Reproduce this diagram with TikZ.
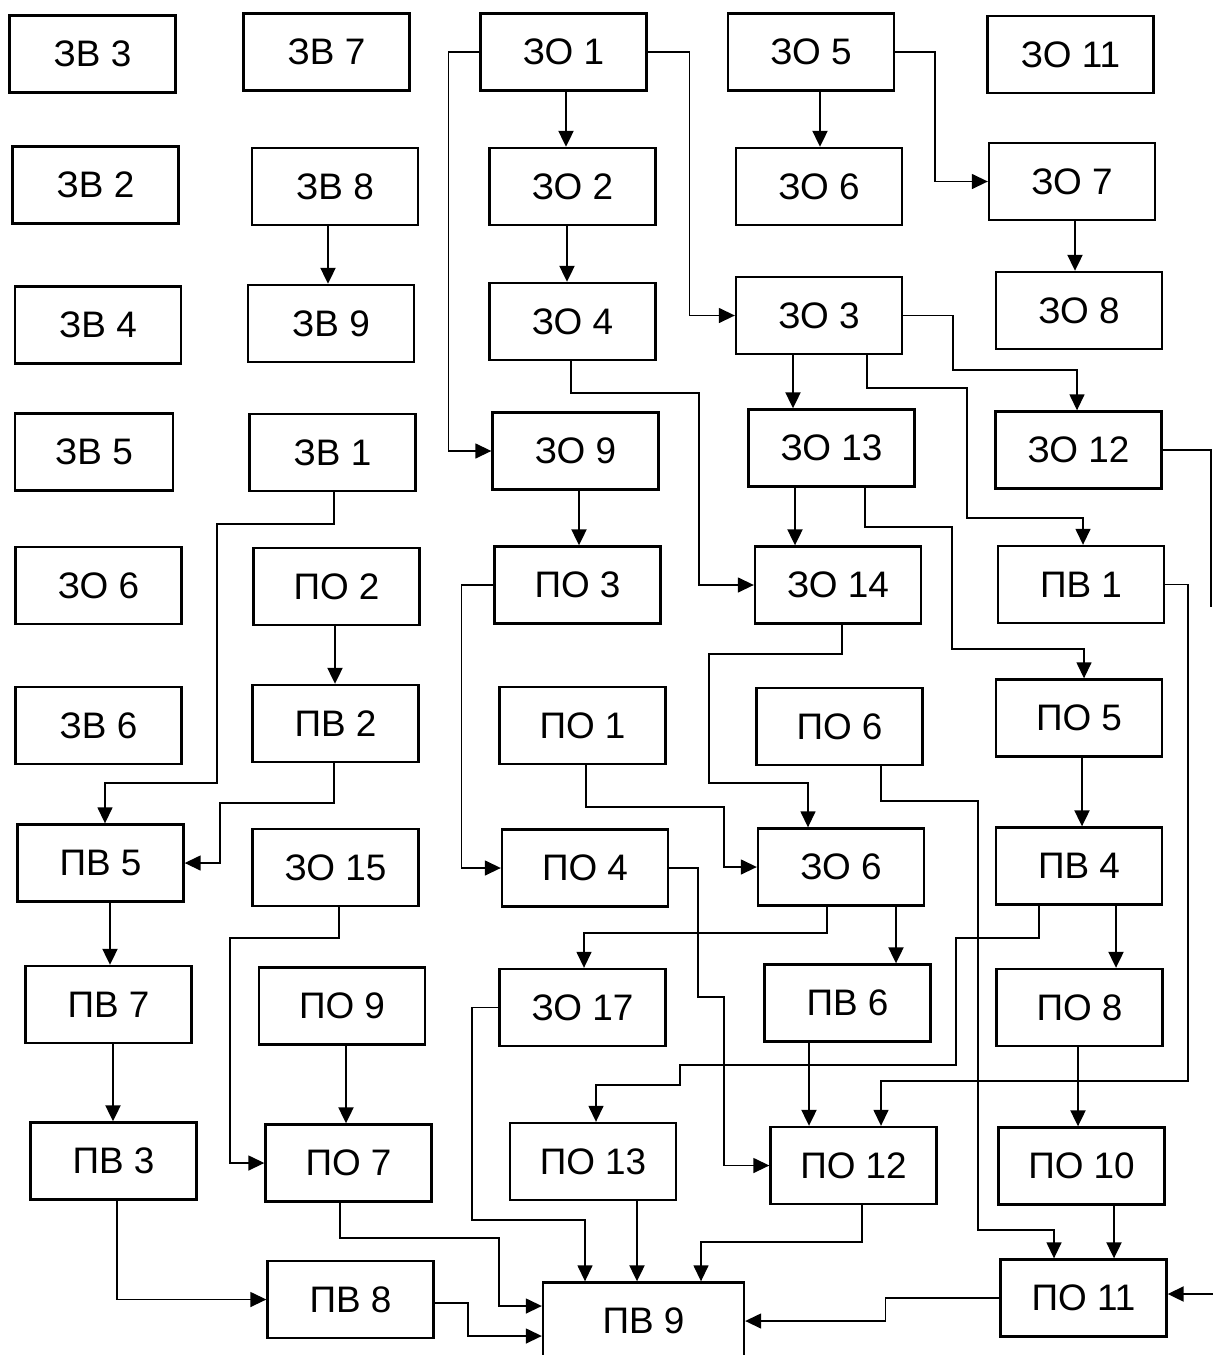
\documentclass[tikz,border=0pt]{standalone}
\usepackage{fontspec}
\setmainfont{Liberation Sans}
\usepackage{tikz}
\usetikzlibrary{arrows.meta}

\tikzset{
  blok/.style={draw, line width=1.35pt, minimum width=3.32cm, minimum height=1.54cm,
    inner sep=0pt, font=\fontsize{21}{25}\selectfont},
  strel/.style={line width=1.15pt, -{Triangle[length=0.32cm,width=0.3cm]}},
  lin/.style={line width=0.8pt},
  lstrel/.style={lin, -{Triangle[length=0.32cm,width=0.3cm]}}
}

\begin{document}
\begin{tikzpicture}[x=0.02cm, y=-0.02cm]
  \useasboundingbox (0,0) rectangle (1213,1355);
  \clip (0,0) rectangle (1213,1355);
  % blocks
  \foreach \n/\x/\y/\t in {zv3/92.5/54/ЗВ 3, zv7/326.5/52/ЗВ 7, zv2/95.5/185/ЗВ 2,
      zv8/335/186.5/ЗВ 8, zv4/98/325/ЗВ 4, zv9/331/323.5/ЗВ 9, zv1/332.5/452.5/ЗВ 1,
      zoa/98.5/585.5/ЗО 6, po2/336.5/586.5/ПО 2, zv6/98.5/725.5/ЗВ 6,
      pv2/335.5/723.5/ПВ 2, pv5/100.5/863/ПВ 5, zo15/335.5/867.5/ЗО 15,
      pv7/108.5/1004.5/ПВ 7, po9/342/1006/ПО 9, pv3/113.5/1161/ПВ 3,
      po7/348.5/1163/ПО 7, pv8/350.5/1299.5/ПВ 8,
      zo1/563.5/52/ЗО 1, zo2/572.5/186.5/ЗО 2, zo4/572.5/321.5/ЗО 4,
      zo9/575.5/451/ЗО 9, po3/577.5/585/ПО 3, po1/582.5/725.5/ПО 1,
      po4/585/868/ПО 4, zo17/582.5/1007.5/ЗО 17, po13/593/1161.5/ПО 13,
      zo5/811/52/ЗО 5, zob/819/186.5/ЗО 6, zo3/819/315.5/ЗО 3,
      zo13/831.5/448/ЗО 13, zo14/838/585/ЗО 14, po6/839.5/726.5/ПО 6,
      zoc/841/867/ЗО 6, pv6/847.5/1003/ПВ 6, po12/853.5/1165.5/ПО 12,
      zo11/1070.5/54.5/ЗО 11, zo7/1072/181.5/ЗО 7, zo8/1079/310.5/ЗО 8,
      zo12/1078.5/450/ЗО 12, pv1/1081/584.5/ПВ 1, po5/1079/718/ПО 5,
      pv4/1079/866/ПВ 4, po8/1079.5/1007.5/ПО 8, po10/1081.5/1166/ПО 10,
      po11/1083.5/1298/ПО 11} {
    \node[blok] (\n) at (\x,\y) {\t};
  }
  \node[blok, minimum width=3.16cm] (zv5) at (94,452) {ЗВ 5};
  \node[blok, minimum width=4.02cm] (pv9) at (643.5,1321) {ПВ 9};

  % straight arrows
  \draw[strel] (zv8.south -| 328,0) -- (zv9.north -| 328,0);
  \draw[strel] (zo1.south -| 566,0) -- (zo2.north -| 566,0);
  \draw[strel] (zo2.south -| 567,0) -- (zo4.north -| 567,0);
  \draw[strel] (zo5.south -| 820,0) -- (zob.north -| 820,0);
  \draw[strel] (zo7.south -| 1075,0) -- (zo8.north -| 1075,0);
  \draw[strel] (zo3.south -| 793,0) -- (zo13.north -| 793,0);
  \draw[strel] (zo9.south -| 579,0) -- (po3.north -| 579,0);
  \draw[strel] (zo13.south -| 795,0) -- (zo14.north -| 795,0);
  \draw[strel] (zoc.south -| 896,0) -- (pv6.north -| 896,0);
  \draw[strel] (pv4.south -| 1116,0) -- (po8.north -| 1116,0);
  \draw[strel] (pv6.south -| 809,0) -- (po12.north -| 809,0);
  \draw[strel] (po5.south -| 1082,0) -- (pv4.north -| 1082,0);
  \draw[strel] (po8.south -| 1078,0) -- (po10.north -| 1078,0);
  \draw[strel] (po10.south -| 1114,0) -- (po11.north -| 1114,0);
  \draw[strel] (po13.south -| 637,0) -- (pv9.north -| 637,0);
  \draw[strel] (pv7.south -| 113,0) -- (pv3.north -| 113,0);
  \draw[strel] (pv5.south -| 110,0) -- (pv7.north -| 110,0);
  \draw[strel] (po9.south -| 346,0) -- (po7.north -| 346,0);
  \draw[strel] (po2.south -| 335,0) -- (pv2.north -| 335,0);
  \coordinate (vhod) at (1213,1294);
  \draw[strel] (vhod) -- (po11.east |- vhod);

  % routed links, upper part
  \draw[lstrel] (zo1.west) -- ++(-31,0) |- (zo9.west);
  \draw[lstrel] (zo1.east) -- ++(42,0) |- (zo3.west);
  \draw[lstrel] (zo5.east) -- ++(40,0) |- (zo7.west);
  \draw[lstrel] (zo3.east) -| (953,370) -| (zo12.north -| 1077,0);
  \draw[lstrel] (zo3.south -| 867,0) |- (967,388) |- (1083,518) -- (pv1.north -| 1083,0);
  \draw[lstrel] (zo4.south -| 571,0) |- (699,393) |- (zo14.west);
  \draw[lstrel] (zo13.south -| 865,0) |- (952,527) |- (1084,649) -- (po5.north -| 1084,0);
  \coordinate (vyhod) at (1211,607);
  \draw[lin] (zo12.east) -| (vyhod);
  \draw[lstrel] (pv1.east) -| (1188,1081) -| (po12.north -| 881,0);
  \draw[lstrel] (zo14.south -| 842,0) |- (709,654) |- (808,783) -- (zoc.north -| 808,0);
  \draw[lstrel] (po6.south -| 881,0) |- (978,801) |- (1054,1230) -- (po11.north -| 1054,0);
  \draw[lstrel] (po1.south -| 586,0) |- (724,807) |- (zoc.west);
  \draw[lstrel] (po3.west) -- ++(-32,0) |- (po4.west);
  \draw[lstrel] (zv1.south -| 334,0) |- (217,524) |- (105,783) -- (pv5.north -| 105,0);
  \draw[lstrel] (pv2.south -| 334,0) |- (220,803) |- (pv5.east);

  % routed links, lower part
  \draw[lstrel] (po4.east) -| (698,997) -- (724,997) |- (po12.west);
  \draw[lstrel] (zoc.south -| 827,0) |- (584,933) -- (zo17.north -| 584,0);
  \draw[lstrel] (pv4.south -| 1039,0) |- (956,938) |- (680,1065) |- (596,1085)
    -- (po13.north -| 596,0);
  \draw[lstrel] (po11.west) -- ++(-114,0) |- (pv9.east);
  \draw[lstrel] (po12.south -| 862,0) |- (701,1242) -- (pv9.north -| 701,0);
  \draw[lstrel] (zo17.west) -| (472,1220) -| (pv9.north -| 585,0);
  \draw[lstrel] (po7.south -| 340,0) |- (499,1238) |- (pv9.west |- 0,1306);
  \draw[lstrel] (pv8.east |- 0,1303) -| (468,1336) -- (pv9.west |- 0,1336);
  \draw[lstrel] (pv3.south -| 117,0) |- (pv8.west);
  \draw[lstrel] (zo15.south -| 339,0) |- (230,938) |- (po7.west);
\end{tikzpicture}
\end{document}
